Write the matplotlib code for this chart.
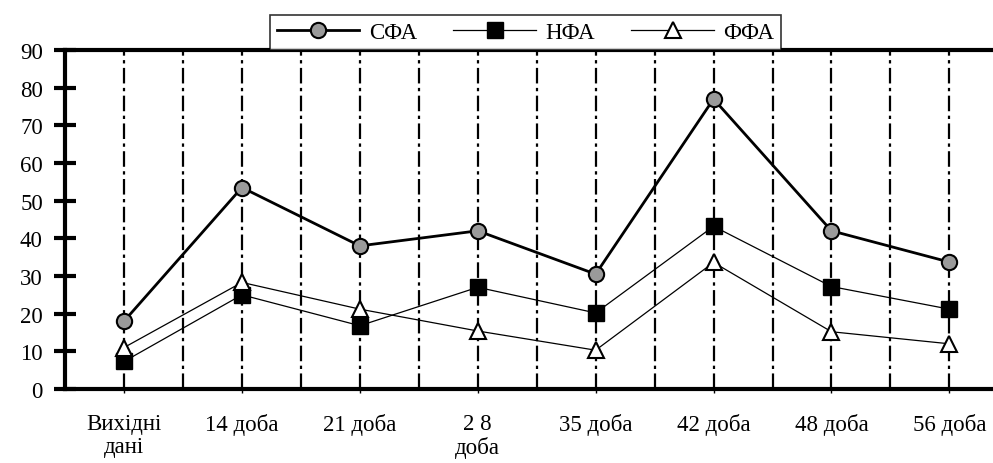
import matplotlib
matplotlib.use("Agg")
import matplotlib.pyplot as plt
import numpy as np

categories = ["Вихідні\nдані", "14 доба", "21 доба", "2 8\nдоба", "35 доба", "42 доба", "48 доба", "56 доба"]
sfa = [18, 53.5, 38, 42, 30.5, 77, 42, 33.7]
nfa = [7.3, 25, 16.8, 27, 20.2, 43.2, 27.2, 21.2]
ffa = [11, 28.3, 21.2, 15.4, 10.3, 33.6, 15.2, 12]
yticks = [0, 10, 20, 30, 40, 50, 60, 70, 80, 90]

plt.rcParams['font.family'] = ['Liberation Serif', 'DejaVu Serif']

fig = plt.figure(figsize=(9.93, 4.64), dpi=100)
ax = fig.add_axes([0.0655, 0.1595, 0.9345, 0.7305])

x = np.arange(len(categories))
# vertical dash-dot grid lines at categories and midpoints
for gx in np.arange(0, len(categories) - 0.49, 0.5):
    ax.axvline(gx, color='black', lw=1.6, linestyle=(0, (7, 2, 1.5, 2)), zorder=1)

ax.plot(x, sfa, color='black', lw=2, marker='o', markersize=11,
        markerfacecolor='#9a9a9a', markeredgecolor='black', markeredgewidth=1.5,
        label='СФА', zorder=3)
ax.plot(x, nfa, color='black', lw=0.9, marker='s', markersize=11,
        markerfacecolor='black', markeredgecolor='black', label='НФА', zorder=3)
ax.plot(x, ffa, color='black', lw=0.9, marker='^', markersize=12,
        markerfacecolor='white', markeredgecolor='black', markeredgewidth=1.5,
        label='ФФА', zorder=3)

ax.set_xlim(-0.5, 7.37)
ax.set_ylim(0, 90)
ax.set_yticks(yticks)
ax.set_xticks(x)
ax.set_xticklabels(categories, fontsize=16.5, va='top', linespacing=1.15)
ax.tick_params(axis='y', direction='inout', length=16, width=3, labelsize=16.5, pad=8)
ax.tick_params(axis='x', direction='out', length=3, width=1, pad=14)

for s in ['left', 'top', 'bottom']:
    ax.spines[s].set_linewidth(3)
ax.spines['right'].set_visible(False)

leg = ax.legend(loc='lower left', bbox_to_anchor=(0.221, 1.0), ncol=3,
                frameon=True, fancybox=False, edgecolor='black', fontsize=16.5,
                handlelength=3.6, columnspacing=1.6, borderpad=0.3,
                handletextpad=0.4, borderaxespad=0)
leg.get_frame().set_linewidth(1.2)
leg.set_zorder(5)

fig.savefig('out.png', dpi=100)
